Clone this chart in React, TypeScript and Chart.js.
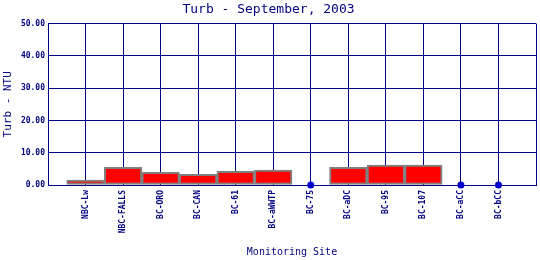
import React, { useEffect, useRef } from "react";
import { Chart, registerables } from "chart.js";

Chart.register(...registerables);

const sites = [
  "NBC-Lw", "NBC-FALLS", "BC-ORO", "BC-CAN", "BC-61", "BC-aWWTP",
  "BC-75", "BC-aDC", "BC-95", "BC-107", "BC-aCC", "BC-bCC",
];
const turbidity = [1.5, 5.5, 3.9, 3.3, 4.2, 4.6, 0, 5.5, 6.2, 6.2, 0, 0];
const yTicks = [0, 10, 20, 30, 40, 50];

const NAVY = "#000080";
const MONO = "'DejaVu Sans Mono', 'Liberation Mono', monospace";

export default function App() {
  const ref = useRef<HTMLCanvasElement | null>(null);

  useEffect(() => {
    document.body.style.margin = "0";
    const canvas = ref.current;
    if (!canvas) return;

    const barData = sites
      .map((s, i) => ({ x: i + 1, y: turbidity[i] }))
      .filter((d) => d.y > 0);
    const dotData = sites
      .map((s, i) => ({ x: i + 1, y: turbidity[i] }))
      .filter((d) => d.y === 0);

    const chart = new Chart(canvas, {
      type: "bar",
      data: {
        datasets: [
          {
            type: "bar",
            data: barData as any,
            backgroundColor: "#ff0000",
            borderColor: "#808080",
            borderWidth: 2,
            borderSkipped: false,
            barPercentage: 1,
            categoryPercentage: 1,
          },
          {
            type: "line",
            data: dotData as any,
            showLine: false,
            pointRadius: 3.5,
            pointBackgroundColor: "#0000cc",
            pointBorderColor: "#0000cc",
            pointBorderWidth: 0,
            clip: false as any,
          },
        ],
      },
      options: {
        responsive: false,
        animation: false,
        devicePixelRatio: 1,
        layout: { padding: { left: 0, right: 3, top: 0, bottom: 0 } },
        plugins: {
          legend: { display: false },
          tooltip: { enabled: false },
          title: {
            display: true,
            text: "Turb - September, 2003",
            color: NAVY,
            font: { family: MONO, size: 13, weight: "normal" },
            padding: { top: 2, bottom: 6 },
          },
        },
        scales: {
          x: {
            type: "linear",
            min: 0,
            max: sites.length + 1,
            offset: false,
            afterBuildTicks: (scale: any) => {
              scale.ticks = Array.from({ length: sites.length + 2 }, (_, i) => ({ value: i }));
            },
            afterFit: (scale: any) => {
              scale.height = 75;
              scale.paddingLeft = 0;
              scale.paddingRight = 0;
            },
            ticks: {
              autoSkip: false,
              maxRotation: 90,
              minRotation: 90,
              padding: 5,
              color: NAVY,
              font: { family: MONO, size: 8, weight: "bold" },
              callback: (v: any) => sites[Number(v) - 1] ?? "",
            },
            grid: { color: NAVY, lineWidth: 1, drawTicks: false, offset: false },
            border: { color: NAVY, width: 1 },
            title: {
              display: true,
              text: "Monitoring Site",
              color: NAVY,
              font: { family: MONO, size: 10 },
              padding: { top: 0, bottom: 2 },
            },
          },
          y: {
            min: 0,
            max: 50,
            afterBuildTicks: (scale: any) => {
              scale.ticks = yTicks.map((v) => ({ value: v }));
            },
            afterFit: (scale: any) => {
              scale.width = 48;
            },
            ticks: {
              padding: 3,
              color: NAVY,
              font: { family: MONO, size: 8, weight: "bold" },
              callback: (v: any) => Number(v).toFixed(2),
            },
            grid: { color: NAVY, lineWidth: 1, drawTicks: false },
            border: { color: NAVY, width: 1 },
            title: {
              display: true,
              text: "Turb - NTU",
              color: NAVY,
              font: { family: MONO, size: 11 },
              padding: { top: 2, bottom: 0 },
            },
          },
        },
      },
    });
    return () => chart.destroy();
  }, []);

  return (
    <div style={{ width: 540, height: 260 }}>
      <canvas ref={ref} width={540} height={260} style={{ width: 540, height: 260, display: "block" }} />
    </div>
  );
}
